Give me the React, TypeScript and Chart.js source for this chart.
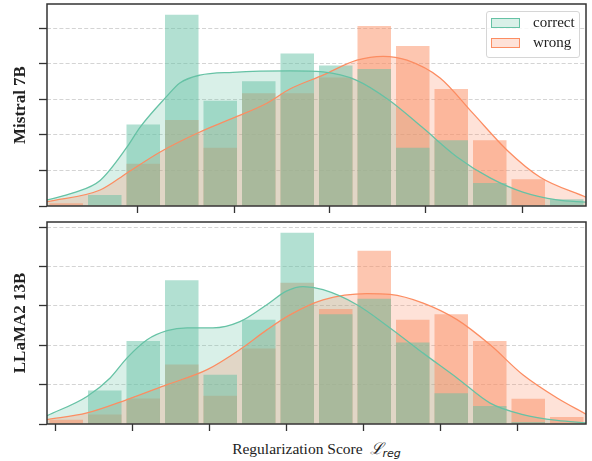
import React, { useEffect, useRef } from "react";
import { Chart, registerables } from "chart.js";

Chart.register(...registerables);

const GREEN = "#66c2a5";
const ORANGE = "#fc8d62";
const GREEN_BAR = "rgba(102,194,165,0.5)";
const ORANGE_BAR = "rgba(252,141,98,0.5)";
const GREEN_FILL = "rgba(102,194,165,0.25)";
const ORANGE_FILL = "rgba(252,141,98,0.25)";

const seriesNames = ["correct", "wrong"];
const xLabel = "Regularization Score";

// histogram bin centres (x axis in bin units)
const binCenters = [0.5, 1.5, 2.5, 3.5, 4.5, 5.5, 6.5, 7.5, 8.5, 9.5, 10.5, 11.5, 12.5, 13.5];

// ---- Mistral 7B ----
const mistralCorrect = [0, 0.31, 2.29, 5.38, 2.96, 3.51, 4.29, 3.95, 3.85, 1.64, 1.85, 0.65, 0, 0.19];
const mistralWrong = [0.08, 0, 1.19, 2.42, 1.64, 3.17, 3.17, 3.61, 5.06, 4.5, 3.29, 1.85, 0.75, 0];
const mistralKdeX = [0, 0.68, 1.38, 2.08, 2.42, 3.09, 3.45, 3.97, 4.83, 6.31, 7.17, 8.03, 8.88, 9.77, 10.65, 11.51, 12.36, 13.25, 14];
const mistralCorrectKde = [0.17, 0.37, 0.72, 1.66, 2.22, 3.06, 3.46, 3.68, 3.76, 3.8, 3.77, 3.54, 2.98, 2.19, 1.38, 0.79, 0.39, 0.17, 0.11];
const mistralWrongKdeX = [0, 1.38, 2.08, 2.94, 3.97, 4.83, 5.71, 6.31, 7.17, 8.05, 8.73, 9.35, 10.21, 11.06, 11.95, 12.81, 14];
const mistralWrongKde = [0.12, 0.45, 0.93, 1.52, 2.08, 2.47, 2.89, 3.29, 3.68, 4.1, 4.21, 4.1, 3.6, 2.61, 1.57, 0.81, 0.25];
const mistralXTicks = [2.34, 4.86, 7.35, 9.84, 12.34];
const mistralYTicks = [0, 1, 2, 3, 4, 5];
const mistralYMax = 5.68;

// ---- LLaMA2 13B ----
const llamaCorrect = [0, 0.85, 2.11, 3.65, 1.25, 2.65, 4.86, 2.79, 3.18, 2.07, 0.78, 0.46, 0.05, 0];
const llamaWrong = [0.11, 0.24, 0.65, 1.51, 0.72, 1.92, 3.59, 2.92, 4.4, 2.65, 2.79, 2.11, 0.64, 0.18];
const llamaCorrectKdeX = [0, 1.04, 1.64, 2.08, 2.6, 3.12, 3.64, 4.31, 5.01, 5.71, 6.23, 6.65, 7.17, 8.05, 8.91, 9.77, 10.65, 11.51, 12.36, 13.25, 14];
const llamaCorrectKde = [0.21, 0.7, 1.17, 1.68, 2.14, 2.37, 2.44, 2.44, 2.6, 3.03, 3.38, 3.49, 3.41, 3.03, 2.44, 1.8, 1.17, 0.53, 0.24, 0.09, 0.03];
const llamaWrongKdeX = [0, 1.04, 2.08, 3.12, 4.16, 5.01, 5.71, 6.31, 7.17, 8.31, 8.91, 9.77, 10.65, 11.51, 12.36, 13.25, 14];
const llamaWrongKde = [0.11, 0.28, 0.62, 1.0, 1.38, 1.89, 2.39, 2.77, 3.15, 3.31, 3.29, 3.07, 2.65, 2.01, 1.25, 0.66, 0.25];
const llamaXTicks = [0.23, 2.23, 4.21, 6.21, 8.21, 10.21, 12.21];
const llamaYTicks = [0, 1, 2, 3, 4, 5];
const llamaYMax = 5.13;

const pts = (xs: number[], ys: number[]) => xs.map((x, i) => ({ x, y: ys[i] }));

const framePlugin = {
  id: "frame",
  afterDatasetsDraw(chart: any) {
    const { ctx, chartArea: a } = chart;
    ctx.save();
    ctx.strokeStyle = "#333333";
    ctx.lineWidth = 1.5;
    ctx.strokeRect(a.left, a.top, a.right - a.left, a.bottom - a.top);
    ctx.restore();
  },
};

interface PanelProps {
  title: string;
  correct: number[];
  wrong: number[];
  cKdeX: number[];
  cKde: number[];
  wKdeX: number[];
  wKde: number[];
  xTicks: number[];
  yTicks: number[];
  yMax: number;
  height: number;
  padTop: number;
}

function Panel(p: PanelProps) {
  const ref = useRef<HTMLCanvasElement | null>(null);
  useEffect(() => {
    if (!ref.current) return;
    const lineBase = {
      type: "line" as const,
      pointRadius: 0,
      cubicInterpolationMode: "monotone" as const,
    };
    const chart = new Chart(ref.current, {
      type: "bar",
      data: {
        datasets: [
          {
            ...lineBase,
            label: "correct-fill",
            data: pts(p.cKdeX, p.cKde),
            borderWidth: 0,
            borderColor: "rgba(0,0,0,0)",
            backgroundColor: GREEN_FILL,
            fill: "origin",
            order: 5,
          } as any,
          {
            ...lineBase,
            label: "wrong-fill",
            data: pts(p.wKdeX, p.wKde),
            borderWidth: 0,
            borderColor: "rgba(0,0,0,0)",
            backgroundColor: ORANGE_FILL,
            fill: "origin",
            order: 4,
          } as any,
          {
            type: "bar",
            label: seriesNames[1],
            data: pts(binCenters, p.wrong),
            backgroundColor: ORANGE_BAR,
            borderWidth: 0,
            grouped: false,
            barPercentage: 0.87,
            categoryPercentage: 1,
            order: 3,
          } as any,
          {
            type: "bar",
            label: seriesNames[0],
            data: pts(binCenters, p.correct),
            backgroundColor: GREEN_BAR,
            borderWidth: 0,
            grouped: false,
            barPercentage: 0.87,
            categoryPercentage: 1,
            order: 2,
          } as any,
          {
            ...lineBase,
            label: "wrong-kde",
            data: pts(p.wKdeX, p.wKde),
            borderWidth: 1.3,
            borderColor: ORANGE,
            fill: false,
            order: 1,
          } as any,
          {
            ...lineBase,
            label: "correct-kde",
            data: pts(p.cKdeX, p.cKde),
            borderWidth: 1.3,
            borderColor: GREEN,
            fill: false,
            order: 0,
          } as any,
        ],
      },
      options: {
        animation: false,
        responsive: false,
        devicePixelRatio: 1,
        layout: { padding: { top: p.padTop, right: 6, left: 0, bottom: 0 } },
        plugins: { legend: { display: false }, tooltip: { enabled: false } },
        scales: {
          x: {
            type: "linear",
            min: 0,
            max: 14,
            offset: false,
            afterBuildTicks: (s: any) => {
              s.ticks = p.xTicks.map((v) => ({ value: v }));
            },
            afterFit: (s: any) => {
              s.height = 7;
            },
            ticks: { display: false },
            grid: {
              offset: false,
              drawOnChartArea: false,
              drawTicks: true,
              tickLength: 7,
              tickColor: "#333333",
              tickWidth: 1.3,
              color: "#333333",
            },
            border: { display: false },
          },
          y: {
            type: "linear",
            min: 0,
            max: p.yMax,
            afterBuildTicks: (s: any) => {
              s.ticks = p.yTicks.map((v) => ({ value: v }));
            },
            afterFit: (s: any) => {
              s.width = 47;
            },
            ticks: { display: false },
            grid: {
              offset: false,
              drawOnChartArea: true,
              drawTicks: true,
              tickLength: 8,
              tickColor: "#333333",
              tickWidth: 1.3,
              lineWidth: 1,
              color: (c: any) => (c.tick && c.tick.value === 0 ? "rgba(0,0,0,0)" : "#d4d4d4"),
            },
            border: { display: false, dash: [4, 2.2] },
            title: {
              display: true,
              text: p.title,
              color: "#222222",
              font: { family: "'Liberation Serif', 'Times New Roman', serif", size: 17, weight: "bold" },
              padding: { top: 10, bottom: 0 },
            },
          },
        },
      } as any,
      plugins: [framePlugin],
    });
    return () => chart.destroy();
  }, []);
  return <canvas ref={ref} width={592} height={p.height} style={{ display: "block", width: 592, height: p.height }} />;
}

const serif = "'Liberation Serif', 'Times New Roman', serif";

export default function App() {
  return (
    <div style={{ position: "fixed", left: 0, top: 0, width: 592, height: 461, background: "#fff", overflow: "hidden" }}>
      <div style={{ position: "absolute", left: 0, top: 0 }}>
        <Panel
          title="Mistral 7B"
          correct={mistralCorrect}
          wrong={mistralWrong}
          cKdeX={mistralKdeX}
          cKde={mistralCorrectKde}
          wKdeX={mistralWrongKdeX}
          wKde={mistralWrongKde}
          xTicks={mistralXTicks}
          yTicks={mistralYTicks}
          yMax={mistralYMax}
          height={213}
          padTop={4}
        />
      </div>
      <div style={{ position: "absolute", left: 0, top: 214 }}>
        <Panel
          title="LLaMA2 13B"
          correct={llamaCorrect}
          wrong={llamaWrong}
          cKdeX={llamaCorrectKdeX}
          cKde={llamaCorrectKde}
          wKdeX={llamaWrongKdeX}
          wKde={llamaWrongKde}
          xTicks={llamaXTicks}
          yTicks={llamaYTicks}
          yMax={llamaYMax}
          height={217}
          padTop={8}
        />
      </div>
      {/* legend */}
      <div
        style={{
          position: "absolute",
          left: 485.5,
          top: 10.5,
          width: 92,
          height: 45,
          border: "1px solid #d6d6d6",
          borderRadius: 3,
          background: "rgba(255,255,255,0.8)",
          fontFamily: serif,
          fontSize: 15,
          color: "#222",
        }}
      >
        {seriesNames.map((name, i) => (
          <div key={name} style={{ position: "absolute", left: 0, top: i === 0 ? 5.5 : 25.5, height: 14, width: 92 }}>
            <div
              style={{
                position: "absolute",
                left: 4.5,
                top: 0.5,
                width: 27,
                height: 8,
                border: `1.5px solid ${i === 0 ? GREEN : ORANGE}`,
                background: i === 0 ? GREEN_FILL : ORANGE_FILL,
              }}
            />
            <div style={{ position: "absolute", left: 46.5, top: -3, lineHeight: "17px", whiteSpace: "nowrap" }}>{name}</div>
          </div>
        ))}
      </div>
      {/* x axis label */}
      <div
        style={{
          position: "absolute",
          left: 47,
          width: 539,
          top: 440,
          textAlign: "center",
          fontFamily: serif,
          fontSize: 15.5,
          color: "#222",
          lineHeight: "18px",
          whiteSpace: "nowrap",
        }}
      >
        {xLabel}
        <span style={{ marginLeft: 7, fontFamily: "'DejaVu Serif', serif", fontStyle: "italic", fontSize: 16 }}>ℒ</span>
        <sub style={{ fontFamily: "'DejaVu Sans', sans-serif", fontStyle: "italic", fontSize: 11, verticalAlign: "-3px" }}>reg</sub>
      </div>
    </div>
  );
}
